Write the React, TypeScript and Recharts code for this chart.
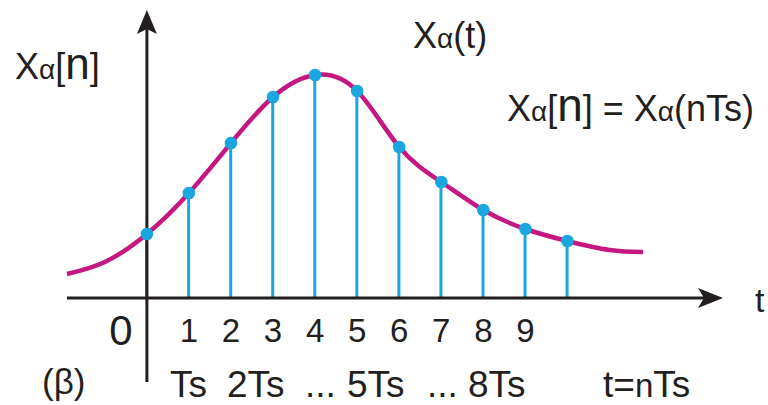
import { ComposedChart, Line, Bar, Scatter, XAxis, YAxis, ReferenceLine, Customized } from 'recharts';

// sample index n and sampled value x[n]
const samples = [
  { n: 0, v: 0.64 },
  { n: 1, v: 1.05 },
  { n: 2, v: 1.55 },
  { n: 3, v: 2.01 },
  { n: 4, v: 2.23 },
  { n: 5, v: 2.07 },
  { n: 6, v: 1.51 },
  { n: 7, v: 1.16 },
  { n: 8, v: 0.88 },
  { n: 9, v: 0.69 },
  { n: 10, v: 0.57 },
];

// continuous signal xa(t) (t in units of Ts)
const curve = [
  { n: -1.9, v: 0.24 },
  { n: -1, v: 0.36 },
  { n: 0, v: 0.64 },
  { n: 1, v: 1.05 },
  { n: 2, v: 1.55 },
  { n: 3, v: 2.01 },
  { n: 4, v: 2.23 },
  { n: 5, v: 2.07 },
  { n: 6, v: 1.51 },
  { n: 7, v: 1.16 },
  { n: 8, v: 0.88 },
  { n: 9, v: 0.69 },
  { n: 10, v: 0.57 },
  { n: 11, v: 0.48 },
  { n: 11.8, v: 0.46 },
];

const nTicks = [0, 1, 2, 3, 4, 5, 6, 7, 8, 9];
const timeLabels = ['Ts', '2Ts', '...', '5Ts', '...', '8Ts'];

const W = 768;
const H = 405;
const BASE = 298;
const INK = '#231f20';
const MAGENTA = '#c4177f';
const BLUE = '#1aa7df';
const FONT = '"Liberation Sans", Arial, sans-serif';

const NTick = (props: any) => {
  const { x, payload } = props;
  const zero = payload.value === 0;
  return (
    <text x={zero ? x - 26 : x} y={zero ? BASE + 47 : BASE + 44} textAnchor="middle"
      fontSize={zero ? 42 : 33} fill={INK} fontFamily={FONT}>
      {payload.value}
    </text>
  );
};

const HAxis = (p: any) => {
  const x1 = Math.min(p.x1, p.x2);
  const x2 = Math.max(p.x1, p.x2);
  const y = p.y1;
  return (
    <g>
      <line x1={x1} y1={y} x2={x2 - 10} y2={y} stroke={INK} strokeWidth={3} />
      <polygon points={`${x2},${y} ${x2 - 25},${y - 10} ${x2 - 19},${y} ${x2 - 25},${y + 10}`} fill={INK} />
    </g>
  );
};

const VAxis = (p: any) => {
  const top = Math.min(p.y1, p.y2);
  const bottom = Math.max(p.y1, p.y2);
  const x = p.x1;
  return (
    <g>
      <line x1={x} y1={top + 20} x2={x} y2={bottom + 84} stroke={INK} strokeWidth={3} />
      <polygon points={`${x},${top + 10} ${x - 10},${top + 34} ${x},${top + 29} ${x + 10},${top + 34}`} fill={INK} />
    </g>
  );
};

const Texts = () => {
  const rowX = [170, 227, 305, 347, 427, 468];
  const t = { fill: INK, fontFamily: FONT };
  return (
    <g>
      <text x={15} y={79} fontSize={36} {...t}>X<tspan fontSize={28}>α</tspan>[<tspan fontSize={44}>n</tspan>]</text>
      <text x={413} y={48} fontSize={36} {...t}>X<tspan fontSize={28}>α</tspan>(t)</text>
      <text x={507} y={121} fontSize={36} {...t}>
        X<tspan fontSize={28}>α</tspan>[<tspan fontSize={46}>n</tspan>] = X<tspan fontSize={28}>α</tspan>(nTs)
      </text>
      <text x={755} y={312} fontSize={34} {...t}>t</text>
      <text x={42} y={394} fontSize={35} {...t}>(β)</text>
      {timeLabels.map((s, i) => (
        <text key={i} x={rowX[i]} y={397} fontSize={37} {...t}>{s}</text>
      ))}
      <text x={603} y={397} fontSize={37} {...t}>t=<tspan fontSize={33}>n</tspan>Ts</text>
    </g>
  );
};

export default function App() {
  return (
    <div style={{ position: 'absolute', left: 0, top: 0, width: W, height: H, background: '#fff' }}>
      <ComposedChart width={W} height={H} data={samples} margin={{ top: 0, right: 45, bottom: 0, left: 67 }}>
        <XAxis dataKey="n" type="number" domain={[-1.9, 13.7]} ticks={nTicks} interval={0}
          height={H - BASE} axisLine={false} tickLine={false} tick={<NTick />} />
        <YAxis type="number" domain={[0, 2.98]} hide />
        <ReferenceLine y={0} shape={HAxis} />
        <ReferenceLine x={0} shape={VAxis} />
        <Bar dataKey="v" fill={BLUE} barSize={3} isAnimationActive={false} />
        <Line data={curve} dataKey="v" type="natural" stroke={MAGENTA} strokeWidth={4.5} dot={false} isAnimationActive={false} />
        <Scatter data={samples} dataKey="v" fill={BLUE} isAnimationActive={false}
          shape={(p: any) => <circle cx={p.cx} cy={p.cy} r={6.3} fill={BLUE} />} />
        <Customized component={<Texts />} />
      </ComposedChart>
    </div>
  );
}
